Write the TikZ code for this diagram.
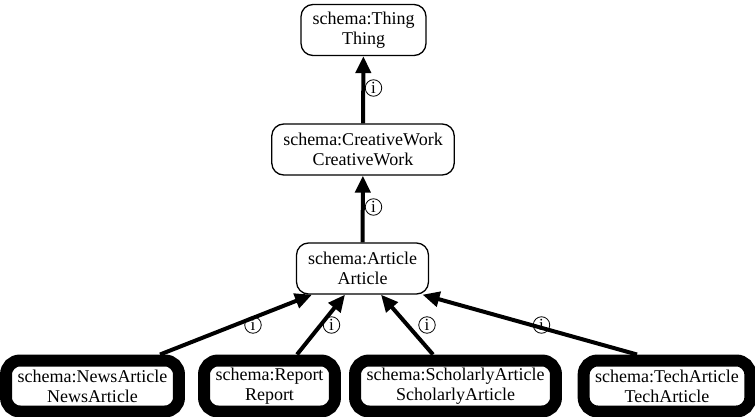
\documentclass[tikz,border=0pt]{standalone}
\usepackage{fontspec}
\setmainfont{Liberation Serif}
\usetikzlibrary{arrows.meta}
\begin{document}
\begin{tikzpicture}[x=1pt,y=-1pt,
  cls/.style={draw=black,line width=1.3pt,rounded corners=12pt,align=center,
    font=\fontsize{18}{20}\selectfont,inner xsep=11.5pt,inner ysep=0pt,minimum height=51pt},
  sub/.style={cls,line width=12pt,rounded corners=14pt},
  edge/.style={line width=4pt,-{Triangle[length=17pt,width=15pt]}},
  inf/.style={draw=black,circle,line width=0.8pt,inner sep=0pt,minimum size=16.5pt,
    font=\fontsize{17}{17}\selectfont}]
\useasboundingbox (0,0) rectangle (755,417);
\node[cls] (thing) at (363.5,30) {schema:Thing\\Thing};
\node[cls] (cw) at (363,149.5) {schema:CreativeWork\\CreativeWork};
\node[cls] (article) at (362.5,268.5) {schema:Article\\Article};
\node[sub] (news) at (92.5,386) {schema:NewsArticle\\NewsArticle};
\node[sub] (report) at (269.5,386) {schema:Report\\Report};
\node[sub] (scholar) at (455.5,386) {schema:ScholarlyArticle\\ScholarlyArticle};
\node[sub] (tech) at (667,386) {schema:TechArticle\\TechArticle};
\draw[edge] (cw) -- (thing);
\draw[edge] (article) -- (cw);
\draw[edge] ([xshift=67.5pt]news.north) -- ([xshift=-50.5pt]article.south);
\draw[edge] ([xshift=27.5pt]report.north) -- ([xshift=-17.5pt]article.south);
\draw[edge] ([xshift=-22.5pt]scholar.north) -- ([xshift=18.5pt]article.south);
\draw[edge] ([xshift=-30pt]tech.north) -- ([xshift=60pt]article.south);
\node[inf] (l1) at (373.5,88) {i};
\node[inf] (l2) at (373.5,207) {i};
\node[inf] (l3) at (253,325) {i};
\node[inf] (l4) at (331.5,325) {i};
\node[inf] (l5) at (427,325) {i};
\node[inf] (l6) at (541.5,325) {i};
\end{tikzpicture}
\end{document}
